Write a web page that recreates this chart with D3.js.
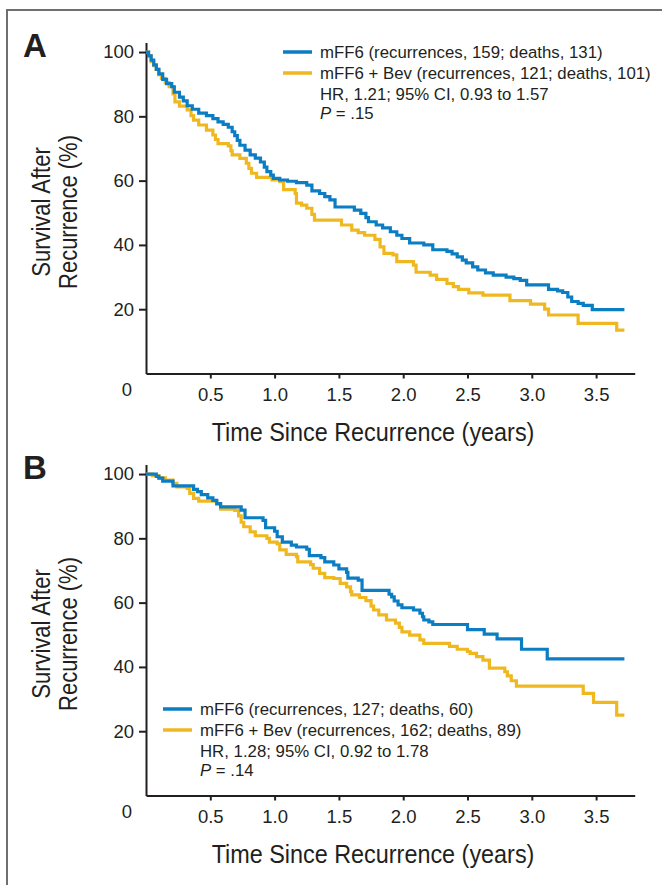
<!DOCTYPE html>
<html><head><meta charset="utf-8">
<script src="https://cdn.jsdelivr.net/npm/d3@7"></script>
<style>body{margin:0;background:#fff}svg{display:block}</style>
</head><body><svg id="c" width="662" height="885"></svg>
<script>
// ---- data ----
const xTickValues = [0.5, 1.0, 1.5, 2.0, 2.5, 3.0, 3.5];
const yTickValues = [20, 40, 60, 80, 100];
const seriesNames = ["mFF6", "mFF6 + Bev"];

const panelA_mFF6 = [[0,100],[0.02,98.8],[0.04,97.5],[0.06,96],[0.08,94.6],[0.1,93.2],[0.13,91.5],[0.16,90.2],[0.2,89.2],[0.22,87.5],[0.26,86],[0.29,84.8],[0.32,83.3],[0.36,82.2],[0.41,81],[0.47,80.2],[0.52,79.3],[0.56,78.3],[0.6,77.5],[0.64,76.6],[0.67,75.2],[0.69,74],[0.71,72.5],[0.73,71],[0.77,69.5],[0.81,68],[0.85,67],[0.89,65.8],[0.92,64.2],[0.94,62.8],[0.97,61.7],[0.99,60.7],[1.04,60.2],[1.1,59.8],[1.17,59.4],[1.25,58.6],[1.29,56.8],[1.35,56],[1.39,55],[1.43,54],[1.47,51.8],[1.62,50.8],[1.67,49.8],[1.71,48.5],[1.73,47.2],[1.79,46.2],[1.84,45.3],[1.9,44.1],[1.95,43],[1.99,42],[2.05,40.6],[2.16,40],[2.23,38.5],[2.34,38],[2.38,37.2],[2.42,36.3],[2.46,35.3],[2.49,34.4],[2.54,33.2],[2.58,32.2],[2.64,31.3],[2.7,30.6],[2.8,30],[2.86,29.5],[2.91,29],[2.96,27.6],[3.13,26.2],[3.2,25.7],[3.24,25.2],[3.28,23.8],[3.31,22.4],[3.36,21.8],[3.4,21.2],[3.47,19.9],[3.72,19.9]];
const panelA_bev = [[0,100],[0.02,98.8],[0.04,97],[0.06,95.8],[0.08,94.6],[0.1,93],[0.12,91.8],[0.15,90.5],[0.18,89.2],[0.21,87],[0.225,84.5],[0.26,83.2],[0.32,82],[0.35,80.2],[0.37,78.8],[0.41,77.3],[0.47,75.7],[0.52,74.2],[0.54,72.8],[0.56,71.5],[0.64,70.8],[0.66,69.3],[0.67,68],[0.73,66.9],[0.78,65.4],[0.8,63.8],[0.82,62.3],[0.86,61],[0.98,60.2],[1.04,59.7],[1.07,57.2],[1.16,56],[1.17,53],[1.21,52.4],[1.25,51.4],[1.29,49.5],[1.31,47.7],[1.52,46.2],[1.6,44.6],[1.65,43.8],[1.7,43],[1.78,41.7],[1.82,39.4],[1.85,37.4],[1.92,36.9],[1.95,34.8],[2.08,33.7],[2.1,31.5],[2.21,30.6],[2.26,29.3],[2.34,28],[2.39,27],[2.43,26.2],[2.51,25.1],[2.62,24.4],[2.83,22.7],[2.99,21.6],[3.1,20],[3.13,18.2],[3.36,15.6],[3.66,13.5],[3.72,13.5]];
const panelB_mFF6 = [[0,100],[0.08,99.3],[0.1,98.7],[0.13,97.8],[0.21,96.3],[0.37,95.2],[0.4,94.5],[0.43,93.6],[0.48,92.6],[0.52,91.8],[0.55,90.8],[0.58,89.8],[0.74,88.8],[0.77,86.4],[0.91,85.6],[0.93,83.3],[1.0,82.2],[1.02,80.5],[1.06,78.8],[1.13,77.9],[1.17,77.3],[1.25,76.6],[1.27,74.6],[1.36,74],[1.39,72.7],[1.46,71.7],[1.5,70.5],[1.56,69.4],[1.57,67.6],[1.65,67],[1.68,63.8],[1.89,62.6],[1.91,61.8],[1.93,60.5],[1.96,59.3],[1.99,58.4],[2.08,57.7],[2.13,56.7],[2.15,55.6],[2.16,54.6],[2.2,54],[2.23,53.2],[2.5,51.6],[2.63,50.2],[2.73,48.7],[2.92,45.5],[3.12,42.5],[3.72,42.5]];
const panelB_bev = [[0,100],[0.05,99.5],[0.1,98.8],[0.15,98.1],[0.21,97.1],[0.24,96],[0.32,95.5],[0.34,94],[0.37,92.4],[0.41,91.6],[0.55,90.6],[0.58,89.1],[0.69,88.7],[0.72,87],[0.74,85],[0.76,83.6],[0.81,82],[0.85,80.8],[0.94,80],[0.96,78.8],[1.02,78.3],[1.04,76.4],[1.09,75],[1.17,74.3],[1.18,72.7],[1.28,71.8],[1.3,70.7],[1.35,69.1],[1.39,67.8],[1.46,67.5],[1.51,66],[1.56,64.9],[1.59,63.4],[1.6,62.4],[1.66,61.6],[1.71,60.6],[1.75,58.9],[1.77,57.7],[1.81,56.2],[1.87,54.6],[1.94,53.6],[1.97,52.3],[1.99,50.9],[2.05,49.9],[2.13,48.4],[2.16,47.3],[2.36,46.4],[2.42,45.5],[2.5,44.8],[2.52,44.2],[2.57,43.2],[2.62,42.1],[2.67,39.6],[2.79,38.5],[2.81,37.2],[2.84,35.7],[2.88,34],[3.4,31.8],[3.48,29],[3.66,25],[3.72,25]];

const legendA = ["mFF6 (recurrences, 159; deaths, 131)", "mFF6 + Bev (recurrences, 121; deaths, 101)"];
const statsA = ["HR, 1.21; 95% CI, 0.93 to 1.57", ".15"];
const legendB = ["mFF6 (recurrences, 127; deaths, 60)", "mFF6 + Bev (recurrences, 162; deaths, 89)"];
const statsB = ["HR, 1.28; 95% CI, 0.92 to 1.78", ".14"];

// ---- drawing ----
const colors = ["#0a7dc3", "#efb820"];
const FONT = "'Liberation Sans',Arial,sans-serif";
const INK = "#231f20";
const svg = d3.select("#c");

svg.append("rect").attr("x",7).attr("y",10).attr("width",720).attr("height",900)
  .attr("fill","none").attr("stroke","#6f6f6f").attr("stroke-width",2);

const x = d3.scaleLinear().domain([0,3.8]).range([146, 634.7]);

const panels = [
  {letter:"A", off:0, data:[panelA_mFF6, panelA_bev], legend:legendA, stats:statsA, lx:283, ly:52},
  {letter:"B", off:422, data:[panelB_mFF6, panelB_bev], legend:legendB, stats:statsB, lx:163, ly:709}
];

panels.forEach(p => {
  const g = svg.append("g");
  const y = d3.scaleLinear().domain([0,103]).range([373.5+p.off, 42.4+p.off]);

  g.append("text").attr("x",23).attr("y",57+p.off).text(p.letter)
    .attr("font-family",FONT).attr("font-weight","bold")
    .attr("font-size",33).attr("fill",INK);

  const yAxis = g.append("g").attr("transform",`translate(${x(0)},0)`)
    .call(d3.axisLeft(y).tickValues(yTickValues).tickSize(7).tickSizeOuter(0).tickPadding(5));
  const xAxis = g.append("g").attr("transform",`translate(0,${y(0)})`)
    .call(d3.axisBottom(x).tickValues(xTickValues).tickFormat(d3.format(".1f")).tickSize(5).tickSizeOuter(0).tickPadding(9));
  [yAxis,xAxis].forEach(a => {
    a.selectAll("path,line").attr("stroke",INK).attr("stroke-width",2);
    a.selectAll("text").attr("font-family",FONT).attr("font-size",18.5).attr("fill",INK);
  });
  xAxis.selectAll("text").attr("dy","0.71em");
  g.append("text").attr("x",127).attr("y",y(0)+9).attr("dy","0.71em").attr("text-anchor","middle")
    .attr("font-family",FONT).attr("font-size",18.5).attr("fill",INK).text("0");

  g.append("text").attr("transform",`translate(373,${441+p.off}) scale(0.9,1)`).attr("text-anchor","middle")
    .attr("font-family",FONT).attr("font-size",26).attr("fill",INK).text("Time Since Recurrence (years)");
  const yt = g.append("text").attr("transform",`translate(0,${212+p.off}) rotate(-90) scale(0.88,1)`)
    .attr("text-anchor","middle").attr("font-family",FONT).attr("font-size",25).attr("fill",INK);
  yt.append("tspan").attr("x",0).attr("y",50).text("Survival After");
  yt.append("tspan").attr("x",0).attr("y",77).text("Recurrence (%)");

  const line = d3.line().x(d=>x(d[0])).y(d=>y(d[1])).curve(d3.curveStepAfter);
  [1,0].forEach(i => {
    g.append("path").datum(p.data[i]).attr("d",line).attr("fill","none")
      .attr("stroke",colors[i]).attr("stroke-width",3.2).attr("stroke-linejoin","miter");
  });

  // legend
  const LF = 16.8;
  p.legend.forEach((t,i) => {
    const ly = p.ly + i*21;
    g.append("line").attr("x1",p.lx).attr("x2",p.lx+29).attr("y1",ly).attr("y2",ly)
      .attr("stroke",colors[i]).attr("stroke-width",3.5);
    g.append("text").attr("x",p.lx+37).attr("y",ly+6).attr("font-family",FONT)
      .attr("font-size",LF).attr("fill",INK).text(t);
  });
  g.append("text").attr("x",p.lx+37).attr("y",p.ly+48).attr("font-family",FONT)
    .attr("font-size",LF).attr("fill",INK).text(p.stats[0]);
  const pt = g.append("text").attr("x",p.lx+37).attr("y",p.ly+67).attr("font-family",FONT)
    .attr("font-size",LF).attr("fill",INK);
  pt.append("tspan").attr("font-style","italic").text("P");
  pt.append("tspan").text(" = " + p.stats[1]);
});
</script></body></html>
